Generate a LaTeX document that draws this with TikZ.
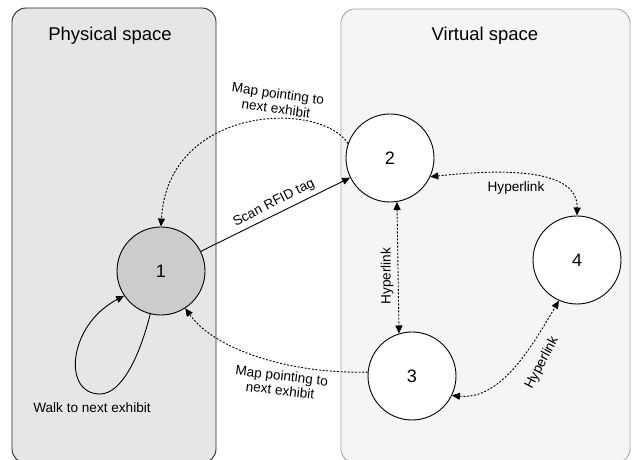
\documentclass[tikz,border=0pt]{standalone}
\usepackage{fontspec}
\setmainfont{Liberation Sans}
\usetikzlibrary{arrows.meta}
\definecolor{physfill}{HTML}{E6E6E6}
\definecolor{virtfill}{HTML}{F5F5F5}
\definecolor{virtline}{HTML}{A6A6A6}
\definecolor{nodegray}{HTML}{CCCCCC}
\tikzset{
  panel/.style={rounded corners=14pt, line width=0.9pt},
  state/.style={circle, draw=black, line width=0.9pt, minimum size=88pt, inner sep=0pt, font=\fontsize{18}{20}\selectfont},
  title/.style={font=\fontsize{18.5}{21}\selectfont},
  lbl/.style={font=\fontsize{13.6}{15}\selectfont, inner sep=1pt, align=center},
  conn/.style={line width=0.9pt, -{Triangle[length=8pt,width=7pt]}},
  dconn/.style={line width=0.9pt, dash pattern=on 2pt off 1.6pt, -{Triangle[length=8pt,width=7pt]}},
  ddconn/.style={line width=0.9pt, dash pattern=on 2pt off 1.6pt, {Triangle[length=8pt,width=7pt]}-{Triangle[length=8pt,width=7pt]}},
}
\begin{document}
\begin{tikzpicture}[x=1pt,y=1pt]
\useasboundingbox (0,0) rectangle (632,460);
\begin{scope}
\clip (0,0) rectangle (632,460);
% panels
\draw[panel, fill=physfill, draw=black!85] (12,-3) rectangle (216,452);
\draw[panel, fill=virtfill, draw=virtline] (341,-3) rectangle (630,451);
\end{scope}
\node[title] (tphys) at (110,424) {Physical space};
\node[title] (tvirt) at (485,424) {Virtual space};
% states
\node[state, fill=nodegray] (n1) at (161,189) {1};
\node[state, fill=white] (n2) at (390,302) {2};
\node[state, fill=white] (n3) at (412,84) {3};
\node[state, fill=white] (n4) at (577,200) {4};
% edges
\draw[conn] (n1) -- (n2);
\node[lbl, rotate=27] (lscan) at (274,257) {Scan RFID tag};
\draw[dconn] (n2.161) .. controls (320,360) and (168,355) .. (n1.north);
\node[lbl, rotate=-8] (lmap1) at (277,359) {Map pointing to\\next exhibit};
\draw[dconn] (n3.175) .. controls (290,86) and (215,110) .. (n1.-57);
\node[lbl, rotate=-7] (lmap2) at (281,77) {Map pointing to\\next exhibit};
\draw[ddconn] (n2.-25) .. controls (510,292) and (578,290) .. (n4.north);
\node[lbl] (lh1) at (516,272) {Hyperlink};
\draw[ddconn] (n2.-81) -- (n3.107);
\node[lbl, rotate=90] (lh2) at (387,184) {Hyperlink};
\draw[ddconn] (n3.-26) .. controls (500,60) and (530,110) .. (n4.-114);
\node[lbl, rotate=62] (lh3) at (542,97) {Hyperlink};
% loop
\coordinate (lb) at (100,66);
\draw[conn] (n1.-104) .. controls (140,105) and (122,66) .. (lb)
  .. controls (62,66) and (68,135) .. (n1.-146);
\node[lbl] (lwalk) at (92,52) {Walk to next exhibit};
\end{tikzpicture}
\end{document}
